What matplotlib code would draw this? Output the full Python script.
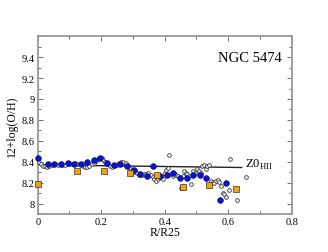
import matplotlib
matplotlib.use("Agg")
import matplotlib.pyplot as plt
from matplotlib.ticker import MultipleLocator

plt.rcParams['font.family'] = ['Liberation Serif', 'DejaVu Serif']
plt.rcParams['mathtext.fontset'] = 'custom'
plt.rcParams['mathtext.rm'] = 'Liberation Serif'

# open circles (all HII regions)
open_x = [0.005, 0.0105, 0.016, 0.023, 0.028, 0.037, 0.044, 0.055, 0.065, 0.076,
          0.086, 0.097, 0.107, 0.118, 0.125, 0.133, 0.142, 0.149, 0.156, 0.163,
          0.170, 0.177, 0.184, 0.189, 0.194, 0.202, 0.207, 0.213, 0.219, 0.228,
          0.234, 0.241, 0.249, 0.255, 0.262, 0.270, 0.277, 0.283, 0.291, 0.298,
          0.304, 0.312, 0.320, 0.328, 0.335, 0.341, 0.349, 0.356, 0.362, 0.367,
          0.373, 0.378, 0.383, 0.388, 0.394, 0.400, 0.404, 0.409, 0.414, 0.419,
          0.425, 0.430, 0.436, 0.443, 0.450, 0.457, 0.462, 0.466, 0.471, 0.477,
          0.483, 0.490, 0.496, 0.501, 0.508, 0.514, 0.519, 0.524, 0.530, 0.535,
          0.541, 0.546, 0.551, 0.556, 0.562, 0.567, 0.571, 0.576, 0.583, 0.588,
          0.593, 0.602, 0.606, 0.629, 0.656]
open_y = [8.393, 8.374, 8.361, 8.355, 8.352, 8.361, 8.371, 8.377, 8.371, 8.368,
          8.371, 8.377, 8.380, 8.384, 8.380, 8.374, 8.361, 8.352, 8.352, 8.361,
          8.374, 8.387, 8.403, 8.425, 8.438, 8.431, 8.415, 8.393, 8.377, 8.361,
          8.352, 8.355, 8.371, 8.384, 8.393, 8.393, 8.384, 8.364, 8.336, 8.320,
          8.304, 8.288, 8.275, 8.272, 8.281, 8.284, 8.291, 8.275, 8.256, 8.233,
          8.217, 8.233, 8.252, 8.265, 8.233, 8.297, 8.323, 8.339, 8.463, 8.284,
          8.265, 8.294, 8.275, 8.265, 8.153, 8.265, 8.313, 8.297, 8.281, 8.265,
          8.185, 8.313, 8.297, 8.329, 8.313, 8.297, 8.361, 8.371, 8.329, 8.361,
          8.371, 8.217, 8.208, 8.201, 8.217, 8.224, 8.208, 8.169, 8.105, 8.089,
          8.067, 8.131, 8.425, 8.035, 8.256]

# filled blue circles (binned)
blue_x = [0.0, 0.0315, 0.0525, 0.0735, 0.0945, 0.114, 0.135, 0.156, 0.177, 0.197,
          0.218, 0.239, 0.260, 0.281, 0.302, 0.323, 0.344, 0.364, 0.385, 0.406,
          0.427, 0.448, 0.469, 0.489, 0.510, 0.531, 0.573, 0.594]
blue_y = [8.431, 8.377, 8.377, 8.374, 8.387, 8.377, 8.380, 8.396, 8.412, 8.431,
          8.390, 8.371, 8.380, 8.358, 8.323, 8.281, 8.262, 8.361, 8.265, 8.275,
          8.291, 8.243, 8.249, 8.278, 8.278, 8.243, 8.032, 8.195]

# orange squares
sq_x = [0.0, 0.125, 0.209, 0.292, 0.375, 0.458, 0.541, 0.625]
sq_y = [8.185, 8.310, 8.316, 8.288, 8.272, 8.163, 8.182, 8.144]

# Z0_HII line
line_x = [0.0, 0.643]
line_y = [8.37, 8.345]

fig = plt.figure(figsize=(3.28, 2.53), dpi=100)
ax = fig.add_axes([0.115, 0.150, 0.774, 0.703])

ax.plot(line_x, line_y, color='#222222', lw=1.0, zorder=2)
ax.scatter(open_x, open_y, s=7, facecolors='white', edgecolors='#333333',
           linewidths=0.6, zorder=3, clip_on=False)
ax.scatter(blue_x, blue_y, s=17, facecolors='#0a14d0', edgecolors='#000066',
           linewidths=0.4, zorder=4, clip_on=False)
ax.scatter(sq_x, sq_y, s=22, marker='s', facecolors='#f5a010', edgecolors='#333333',
           linewidths=0.5, zorder=5, clip_on=False)

ax.text(0.652, 8.38, r'Z0$_{\mathrm{HII}}$', fontsize=9, va='center', ha='left')
ax.text(0.96, 0.88, 'NGC 5474', transform=ax.transAxes, fontsize=10.5,
        ha='right', va='center')

ax.set_xlim(0, 0.8)
ax.set_ylim(7.9, 9.6)
ax.xaxis.set_minor_locator(MultipleLocator(0.1))
ax.yaxis.set_minor_locator(MultipleLocator(0.1))
ax.set_xticks([0, 0.2, 0.4, 0.6, 0.8])
ax.set_xticklabels(['0', '0.2', '0.4', '0.6', '0.8'])
ax.set_yticks([8.0, 8.2, 8.4, 8.6, 8.8, 9.0, 9.2, 9.4])
ax.set_yticklabels(['8', '8.2', '8.4', '8.6', '8.8', '9', '9.2', '9.4'])
ax.tick_params(which='both', direction='in', top=True, right=True,
               color='#555555', labelsize=7.5, pad=2)
ax.tick_params(which='major', length=3.5, width=0.6)
ax.tick_params(which='minor', length=2, width=0.6)
for sp in ax.spines.values():
    sp.set_color('#999999')
    sp.set_linewidth(1.3)

ax.set_xlabel('R/R25', fontsize=8.5, labelpad=0)
ax.set_ylabel('12+log(O/H)', fontsize=8.5, labelpad=3)

fig.savefig('out.png', dpi=100)
